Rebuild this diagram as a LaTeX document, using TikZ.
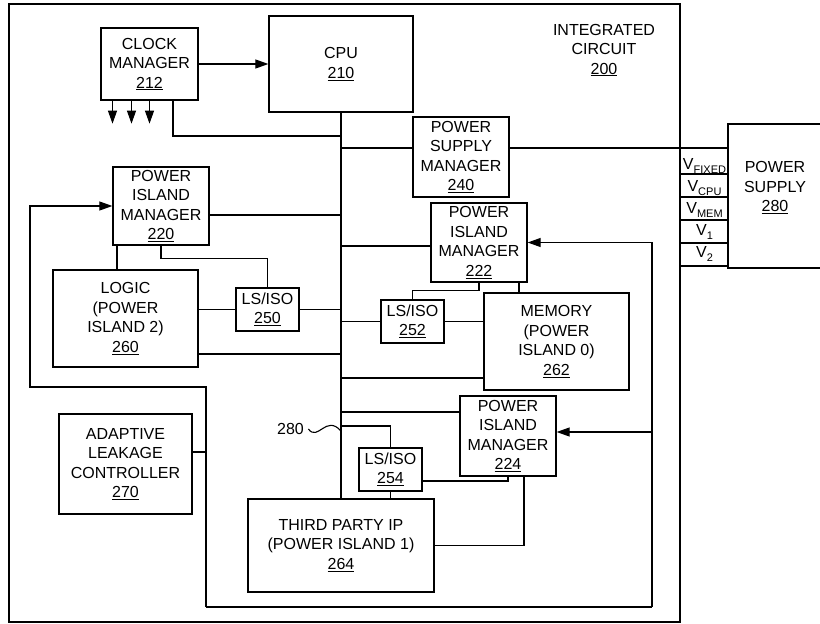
\documentclass[tikz,border=0pt]{standalone}
\usepackage{fontspec}
\setmainfont{Liberation Sans}
\usetikzlibrary{arrows.meta}

% voltage label with a small lowered subscript
\newcommand{\vrail}[1]{V\raisebox{-4pt}{\fontsize{11}{12}\selectfont #1}}

\begin{document}
\begin{tikzpicture}[x=1pt, y=-1pt, line width=1.1pt,
  every node/.style={font=\fontsize{16}{19.5}\selectfont, align=center, inner sep=0pt},
  blk/.style={draw, line width=1.3pt},
  arr/.style={-{Triangle[length=13pt, width=9pt]}}]
  \useasboundingbox (0,0) rectangle (820,624);
  \clip (0,0) rectangle (820,624);
  % chip outline
  \draw[line width=1.3pt] (9,4) rectangle (680,622);
  \node (iclbl) at (604,50) {INTEGRATED\\CIRCUIT\\\underline{200}};
  % blocks
  \node[blk, minimum width=97, minimum height=72] (clk) at (149.5,64) {CLOCK\\MANAGER\\\underline{212}};
  \node[blk, minimum width=144, minimum height=96] (cpu) at (341,64) {CPU\\\underline{210}};
  \node[blk, minimum width=96, minimum height=80] (psm) at (461,157) {POWER\\SUPPLY\\MANAGER\\\underline{240}};
  \node[blk, minimum width=96, minimum height=78] (pim220) at (161,206) {POWER\\ISLAND\\MANAGER\\\underline{220}};
  \node[blk, minimum width=145, minimum height=97] (logic) at (125.5,318.5) {LOGIC\\(POWER\\ISLAND 2)\\\underline{260}};
  \node[blk, minimum width=63, minimum height=43] (ls250) at (267.5,309.5) {LS/ISO\\\underline{250}};
  \node[blk, minimum width=96, minimum height=79] (pim222) at (479,242.5) {POWER\\ISLAND\\MANAGER\\\underline{222}};
  \node[blk, minimum width=63, minimum height=43] (ls252) at (412.5,321.5) {LS/ISO\\\underline{252}};
  \node[blk, minimum width=145, minimum height=97] (mem) at (556.5,341.5) {MEMORY\\(POWER\\ISLAND 0)\\\underline{262}};
  \node[blk, minimum width=96, minimum height=80] (pim224) at (508,436) {POWER\\ISLAND\\MANAGER\\\underline{224}};
  \node[blk, minimum width=63, minimum height=43] (ls254) at (390.5,469.5) {LS/ISO\\\underline{254}};
  \node[blk, minimum width=186, minimum height=93] (tpip) at (341,545.5) {THIRD PARTY IP\\(POWER ISLAND 1)\\\underline{264}};
  \node[blk, minimum width=133, minimum height=100] (alc) at (125.5,464) {ADAPTIVE\\LEAKAGE\\CONTROLLER\\\underline{270}};
  % off-chip supply and its rails
  \node[blk, minimum width=94, minimum height=144] (ps) at (775,196) {};
  \node (pslbl) at (775,187.5) {POWER\\SUPPLY\\\underline{280}};
  \foreach \y in {174,197,220,243,266}
    \draw (680,\y) -- (728,\y);
  \foreach \s/\y [count=\i] in {FIXED/169, CPU/191, MEM/213, 1/235, 2/257}
    \node[anchor=base] (v\i) at (704.5,\y) {\vrail{\s}};
  % shared bus
  \draw (cpu.south) -- (tpip.north);
  \foreach \y in {136,148,215,246,354,378,412,426}
    \coordinate (b\y) at (341,\y);
  \draw[arr] (clk.east) -- (cpu.west);
  \foreach \dx in {-37,-18,0}
    \draw[arr] ([xshift=\dx]clk.south) -- ++(0,23);
  \draw ([xshift=23.5]clk.south) |- (b136);
  \draw (b148) -- (b148 -| psm.west);
  \draw (b148 -| psm.east) -- (b148 -| ps.west);
  \draw (b215 -| pim220.east) -- (b215);
  \draw (b246) -- (b246 -| pim222.west);
  \draw (ls250.east) -- (ls250.east -| cpu.south);
  \draw (ls250.west -| logic.east) -- (ls250.west);
  \draw (b354 -| logic.east) -- (b354);
  \draw (ls252.west -| cpu.south) -- (ls252.west);
  \draw (ls252.east) -- (ls252.east -| mem.west);
  \draw (b378) -- (b378 -| mem.west);
  \draw (b412) -- (b412 -| pim224.west);
  \draw (b426) -| (ls254.north);
  \draw (ls254.south) -- (ls254.south |- tpip.north);
  % island manager control lines
  \draw (pim220.south) -- ++(0,13) -| (ls250.north);
  \draw ([xshift=-44]pim220.south) -- ++(0,25);
  \draw (pim222.south) -- ++(0,7.5) -| (ls252.north);
  \draw ([xshift=40]pim222.south) -- ++(0,11);
  \draw ([yshift=-11.5]ls254.east) -| (pim224.south);
  \draw ([xshift=16]pim224.south) |- (tpip.east);
  % leakage controller feedback loop
  \coordinate (fa) at (206,607);
  \coordinate (fb) at (652,607);
  \coordinate (fc) at (30,387);
  \coordinate (fd) at (652,432);
  \draw[arr] (fa) |- (fc) |- (pim220.west);
  \draw (fa) -- (fb);
  \draw[arr] (fb) |- (pim222.east);
  \draw[arr] (fd) -- (fd -| pim224.east);
  \draw ([yshift=12]alc.east) -- ++(14,0);
  % bus reference
  \node (lbl280) at (290.5,429) {280};
  \draw ([xshift=4]lbl280.east) .. controls (318,442) and (326,414) .. (341,431);
\end{tikzpicture}
\end{document}
